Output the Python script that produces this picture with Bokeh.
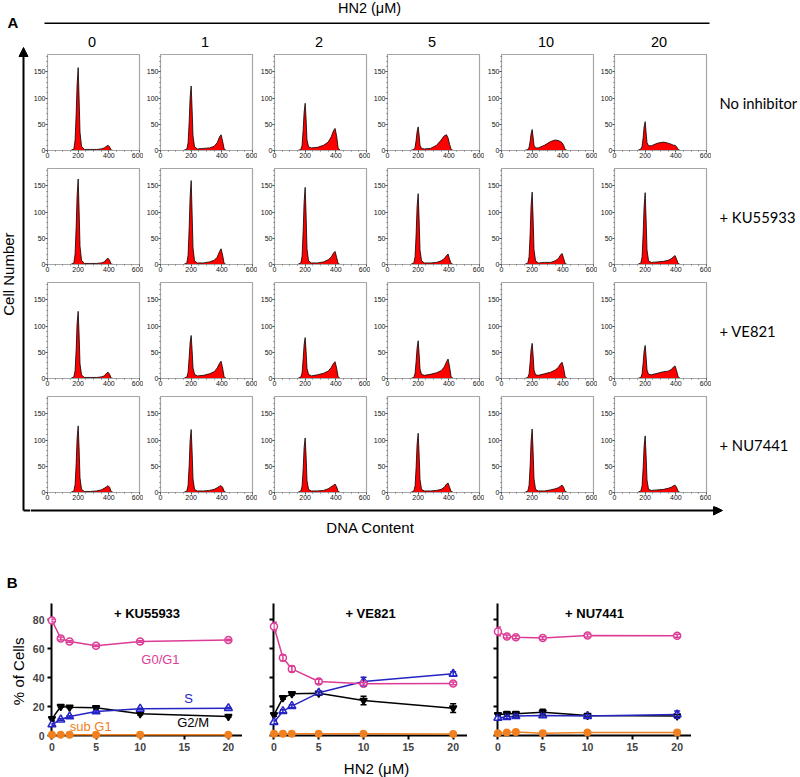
import math
from bokeh.plotting import figure
from bokeh.layouts import row, column
from bokeh.models import Range1d, FixedTicker, Arrow, NormalHead, Whisker, TeeHead, ColumnDataSource
from bokeh.core.properties import value
from bokeh.embed import file_html
from bokeh.resources import INLINE

# ---------------- data ----------------
DOSE_LABELS = ["0", "1", "2", "5", "10", "20"]
ROW_LABELS = ["No inhibitor", "+ KU55933", "+ VE821", "+ NU7441"]

# DNA content positions at which the histogram heights were read
DNA_X = [150, 172, 180, 187, 193, 200, 206, 212, 222, 240, 280, 320, 350, 370, 385, 395, 405, 415, 430]

HIST_NO_INHIBITOR = [
    [0, 3, 20, 70, 125, 158, 100, 35, 8, 2, 2, 2, 3, 5, 8, 10, 7, 1, 0],
    [0, 3, 15, 55, 100, 123, 80, 28, 7, 3, 4, 5, 8, 15, 26, 30, 18, 3, 0],
    [0, 2, 10, 40, 72, 90, 60, 20, 7, 5, 6, 10, 16, 26, 38, 42, 28, 5, 0],
    [0, 2, 6, 20, 36, 45, 30, 10, 4, 3, 4, 10, 20, 28, 30, 24, 12, 2, 0],
    [0, 2, 6, 18, 32, 40, 26, 10, 5, 5, 10, 17, 20, 19, 17, 15, 10, 2, 0],
    [0, 3, 8, 25, 45, 55, 35, 15, 9, 9, 14, 16, 14, 12, 10, 10, 7, 2, 0],
]
HIST_KU55933 = [
    [0, 3, 20, 72, 130, 163, 105, 35, 8, 2, 2, 2, 3, 5, 10, 12, 8, 1, 0],
    [0, 3, 18, 70, 128, 160, 100, 32, 7, 3, 3, 5, 8, 14, 25, 30, 18, 2, 0],
    [0, 3, 16, 65, 118, 147, 95, 30, 7, 3, 3, 5, 9, 14, 22, 25, 14, 2, 0],
    [0, 3, 15, 60, 110, 135, 88, 28, 7, 3, 3, 4, 7, 11, 17, 20, 10, 2, 0],
    [0, 3, 15, 60, 112, 138, 90, 28, 7, 3, 4, 4, 7, 11, 18, 21, 12, 2, 0],
    [0, 3, 15, 60, 110, 137, 88, 28, 7, 4, 5, 6, 8, 11, 15, 17, 10, 2, 0],
]
HIST_VE821 = [
    [0, 3, 15, 55, 105, 128, 85, 28, 7, 2, 2, 2, 3, 5, 10, 12, 8, 1, 0],
    [0, 3, 12, 40, 68, 82, 55, 20, 8, 5, 6, 9, 13, 20, 29, 33, 20, 3, 0],
    [0, 3, 11, 38, 64, 78, 52, 19, 8, 5, 7, 10, 14, 21, 29, 32, 20, 3, 0],
    [0, 2, 10, 34, 58, 72, 48, 18, 8, 6, 8, 11, 15, 22, 32, 37, 22, 3, 0],
    [0, 2, 9, 32, 55, 67, 45, 16, 7, 6, 9, 12, 16, 21, 28, 31, 20, 3, 0],
    [0, 2, 9, 30, 52, 63, 42, 16, 8, 7, 10, 13, 14, 17, 22, 24, 15, 3, 0],
]
HIST_NU7441 = [
    [0, 3, 15, 55, 102, 127, 85, 28, 6, 2, 2, 3, 5, 8, 11, 13, 10, 2, 0],
    [0, 3, 14, 52, 98, 120, 80, 26, 6, 3, 3, 4, 6, 9, 12, 13, 10, 2, 0],
    [0, 3, 12, 45, 85, 104, 70, 23, 6, 3, 3, 4, 7, 11, 14, 16, 11, 2, 0],
    [0, 3, 13, 50, 92, 113, 75, 25, 6, 3, 3, 4, 6, 10, 16, 18, 10, 2, 0],
    [0, 3, 14, 52, 98, 121, 80, 26, 6, 3, 3, 5, 7, 9, 12, 14, 10, 2, 0],
    [0, 3, 13, 48, 88, 108, 72, 24, 6, 4, 5, 6, 8, 10, 13, 14, 10, 2, 0],
]
HIST_ROWS = [HIST_NO_INHIBITOR, HIST_KU55933, HIST_VE821, HIST_NU7441]

HIST_X_TICKS = [0, 200, 400, 600]
HIST_Y_TICKS = [0, 50, 100, 150]

# Panel B: % of cells vs HN2 dose
HN2_B = [0, 1, 2, 5, 10, 20]
KU_G0G1 = [79.5, 67, 65, 62, 65, 66]
KU_S = [7.6, 11, 13.1, 16.6, 18.4, 18.9]
KU_G2M = [11.5, 20, 19.5, 19.1, 15, 13.1]
KU_SUBG1 = [0.5, 0.5, 0.5, 0.6, 0.5, 0.5]
KU_G0G1_ERR = [1, 1, 0.5, 0.5, 0.5, 0.5]
KU_S_ERR = [0.5, 0.5, 0.5, 0.5, 0.5, 0.5]
KU_G2M_ERR = [1.5, 0.5, 0.5, 0.8, 0.8, 0.5]
KU_SUBG1_ERR = [0.2, 0.2, 0.2, 0.2, 0.2, 0.2]

VE_G0G1 = [75.3, 53.7, 46, 37.3, 35.7, 36]
VE_S = [9.2, 16.8, 20.3, 29.5, 37.3, 42.6]
VE_G2M = [14.3, 26, 28.8, 29.2, 24.2, 18.9]
VE_SUBG1 = [1.2, 1.2, 1.2, 1.2, 1.2, 1.0]
VE_G0G1_ERR = [3, 2, 2, 1.5, 1, 1]
VE_S_ERR = [1, 1, 1, 1, 3, 1.5]
VE_G2M_ERR = [1, 1, 1, 1, 3, 3]
VE_SUBG1_ERR = [0.2, 0.2, 0.2, 0.2, 0.2, 0.2]

NU_G0G1 = [71.9, 68.4, 67.9, 67.3, 69.1, 68.9]
NU_S = [12.2, 12.7, 13.4, 13.8, 13.4, 14.5]
NU_G2M = [14.3, 15, 15, 16.1, 13.8, 13.4]
NU_SUBG1 = [1.6, 2.1, 2.5, 1.6, 2.1, 2.1]
NU_G0G1_ERR = [3, 1, 1, 1, 1, 1]
NU_S_ERR = [1, 1, 1, 1, 1, 2.5]
NU_G2M_ERR = [1, 1.5, 1.5, 2, 1, 1]
NU_SUBG1_ERR = [0.3, 0.3, 0.3, 0.3, 0.3, 0.3]

B_TITLES = ["+ KU55933", "+ VE821", "+ NU7441"]
B_X_TICKS = [0, 5, 10, 15, 20]
B_Y_TICKS = [0, 20, 40, 60, 80]

# ---------------- style ----------------
SANS_NAME = "Liberation Sans"
SANS = value(SANS_NAME)
CAL = value("Lato")
PINK = "#DD3C96"
BLUE = "#2424C4"
ORANGE = "#F08020"

# geometry (px)
LEFT_W = 30
HEAD_H = 50
COL_W = [113, 114, 113, 114, 113, 114]
PL, PT, PB = 14, 4, 14
FRAME_W, FRAME_H = 95, 96
PH = PT + FRAME_H + PB
GRID_W = sum(COL_W)
RIGHT_W = 800 - LEFT_W - GRID_W
BOT_H = 39
PART_A_H = HEAD_H + 4 * PH + BOT_H


def deco(w, h):
    f = figure(width=w, height=h, x_range=Range1d(0, w), y_range=Range1d(h, 0),
               output_backend="svg", toolbar_location=None,
               x_axis_location=None, y_axis_location=None, min_border=0)
    f.grid.visible = False
    f.outline_line_color = None
    return f


def hist_panel(heights, width):
    f = figure(width=width, height=PH, x_range=Range1d(0, 600), y_range=Range1d(0, 183),
               output_backend="svg", toolbar_location=None,
               min_border_left=PL, min_border_right=width - PL - FRAME_W,
               min_border_top=PT, min_border_bottom=PB)
    f.grid.visible = False
    f.outline_line_color = "#a6a6a6"
    f.outline_line_width = 1.2
    f.varea(x=DNA_X, y1=[0] * len(DNA_X), y2=heights, fill_color="#ff0000")
    f.line(DNA_X, heights, line_color="black", line_width=0.8)
    f.xaxis.ticker = FixedTicker(ticks=HIST_X_TICKS, minor_ticks=list(range(0, 601, 50)))
    f.yaxis.ticker = FixedTicker(ticks=HIST_Y_TICKS, minor_ticks=list(range(0, 181, 10)))
    for ax in f.axis:
        ax.axis_line_color = "#a6a6a6"
        ax.major_tick_line_color = "#444444"
        ax.minor_tick_line_color = "#666666"
        ax.major_tick_in = 0
        ax.major_tick_out = 2
        ax.minor_tick_in = 0
        ax.minor_tick_out = 1
        ax.major_label_text_font = SANS_NAME
        ax.major_label_text_font_size = "7px"
        ax.major_label_text_color = "#111111"
        ax.major_label_standoff = 0
    return f


# ---------------- part A ----------------
left = deco(LEFT_W, PART_A_H)
left.text(x=[12.5], y=[21.7], text=["A"], text_font=SANS, text_font_style="bold",
          text_font_size="15px", text_align="center", text_baseline="middle")
left.text(x=[7.5], y=[273.6], text=["Cell Number"], text_font=SANS, text_font_size="15px",
          text_align="center", text_baseline="middle", angle=math.pi / 2)
ARROW_Y = 510
left.add_layout(Arrow(end=NormalHead(size=9, fill_color="black", line_color="black"),
                      x_start=23, y_start=ARROW_Y, x_end=23, y_end=47, line_width=2))
left.segment(x0=[23], y0=[ARROW_Y], x1=[LEFT_W], y1=[ARROW_Y], line_width=2, line_color="black")

head = deco(800 - LEFT_W, HEAD_H)
col_left = [sum(COL_W[:i]) + PL for i in range(6)]
frame_centers = [c + FRAME_W / 2 for c in col_left]
head.text(x=[369 - LEFT_W], y=[7], text=["HN2 (\u03bcM)"], text_font=SANS, text_font_size="14.5px",
          text_align="center", text_baseline="middle")
head.segment(x0=[col_left[0]], y0=[22.7], x1=[col_left[5] + FRAME_W + 3], y1=[22.7],
             line_width=1.6, line_color="black")
head.text(x=frame_centers, y=[41.7] * 6, text=DOSE_LABELS, text_font=SANS, text_font_size="14.5px",
          text_align="center", text_baseline="middle")

grid_rows = []
for r in range(4):
    grid_rows.append(row(*[hist_panel(HIST_ROWS[r][c], COL_W[c]) for c in range(6)]))
grid = column(*grid_rows)

rlab = deco(RIGHT_W, 4 * PH)
rlab.text(x=[8] * 4, y=[PT + FRAME_H / 2 + r * PH for r in range(4)], text=ROW_LABELS,
          text_font=CAL, text_font_size="14.8px", text_align="left", text_baseline="middle")

bot = deco(800 - LEFT_W, BOT_H)
bot.add_layout(Arrow(end=NormalHead(size=9, fill_color="black", line_color="black"),
                     x_start=0, y_start=ARROW_Y - HEAD_H - 4 * PH,
                     x_end=722 - LEFT_W, y_end=ARROW_Y - HEAD_H - 4 * PH, line_width=2))
bot.text(x=[370 - LEFT_W], y=[21], text=["DNA Content"], text_font=SANS, text_font_size="15px",
         text_align="center", text_baseline="middle")

part_a = row(left, column(head, row(grid, rlab), bot))

# ---------------- part B ----------------
B_LEFT_W = 29
B_TOP, B_FRAME_W, B_FRAME_H, B_BOT = 603 - PART_A_H, 194, 132, 20
B_H = B_TOP + B_FRAME_H + B_BOT

# left strip: frame aligned with the panels, coordinates in local pixels
leftB = figure(width=B_LEFT_W, height=B_H, x_range=Range1d(0, B_LEFT_W),
               y_range=Range1d(B_TOP + B_FRAME_H, B_TOP), output_backend="svg",
               toolbar_location=None, x_axis_location=None, y_axis_location=None,
               min_border_left=0, min_border_right=0, min_border_top=B_TOP, min_border_bottom=B_BOT)
leftB.grid.visible = False
leftB.outline_line_color = None
tb = leftB.text(x=[11.7], y=[581.7 - PART_A_H], text=["B"], text_font=SANS, text_font_style="bold",
                text_font_size="15px", text_align="center", text_baseline="middle")
tb.level = "overlay"
tc = leftB.text(x=[18.3], y=[666.7 - PART_A_H], text=["%  of  Cells"], text_font=SANS,
                text_font_size="15px", text_align="center", text_baseline="middle", angle=math.pi / 2)
tc.level = "overlay"


def b_panel(title, series, left_border, show_labels):
    f = figure(width=left_border + B_FRAME_W, height=B_H, x_range=Range1d(-0.05, 21.6),
               y_range=Range1d(0, 91.2), output_backend="svg", toolbar_location=None,
               min_border_left=left_border, min_border_right=0, min_border_top=B_TOP,
               min_border_bottom=B_BOT)
    f.grid.visible = False
    f.outline_line_color = None
    f.xaxis.ticker = FixedTicker(ticks=B_X_TICKS)
    f.yaxis.ticker = FixedTicker(ticks=B_Y_TICKS)
    for ax in f.axis:
        ax.axis_line_width = 2
        ax.major_tick_line_width = 2
        ax.major_tick_in = 0
        ax.major_tick_out = 4
        ax.minor_tick_line_color = None
        ax.major_label_text_font = SANS_NAME
        ax.major_label_text_font_style = "bold"
        ax.major_label_text_font_size = "10.5px"
        ax.major_label_standoff = 3
    if not show_labels:
        f.yaxis.major_label_overrides = {t: "" for t in B_Y_TICKS}
        f.yaxis.major_label_standoff = 0
    for vals, errs, color, marker, fill, size in series:
        r = f.line(HN2_B, vals, line_color=color, line_width=1.5)
        r.level = "overlay"
        src = ColumnDataSource(dict(x=HN2_B, lo=[v - e for v, e in zip(vals, errs)],
                                    hi=[v + e for v, e in zip(vals, errs)]))
        w = Whisker(base="x", lower="lo", upper="hi", source=src, dimension="height",
                    line_color=color, line_width=1.5,
                    upper_head=TeeHead(size=6, line_color=color, line_width=1.5),
                    lower_head=TeeHead(size=6, line_color=color, line_width=1.5))
        w.level = "overlay"
        f.add_layout(w)
        s = f.scatter(HN2_B, vals, marker=marker, size=size, line_color=color, fill_color=fill,
                      line_width=1.5)
        s.level = "overlay"
    xr = f.x_range
    f.text(x=[(xr.start + xr.end) / 2], y=[84.3], text=[title], text_font=SANS, text_font_style="bold",
           text_font_size="13px", text_align="center", text_baseline="middle")
    return f


def series(g1, g1e, s, se, g2, g2e, sub, sube):
    return [
        (sub, sube, ORANGE, "circle", ORANGE, 6.5),
        (g2, g2e, "black", "inverted_triangle", "black", 7),
        (s, se, BLUE, "triangle", "white", 8),
        (g1, g1e, PINK, "circle", "white", 7),
    ]


b1 = b_panel(B_TITLES[0], series(KU_G0G1, KU_G0G1_ERR, KU_S, KU_S_ERR, KU_G2M, KU_G2M_ERR,
                                 KU_SUBG1, KU_SUBG1_ERR), 48 - B_LEFT_W, True)
b1.text(x=[12.3, 15.5, 16.0, 4.4], y=[52.5, 25.6, 9.0, 6.2], text=["G0/G1", "S", "G2/M", "sub G1"],
        text_color=[PINK, BLUE, "black", ORANGE], text_font=SANS, text_font_size="13px",
        text_align="center", text_baseline="middle")
b2 = b_panel(B_TITLES[1], series(VE_G0G1, VE_G0G1_ERR, VE_S, VE_S_ERR, VE_G2M, VE_G2M_ERR,
                                 VE_SUBG1, VE_SUBG1_ERR), 273 - 48 - B_FRAME_W, False)
b3 = b_panel(B_TITLES[2], series(NU_G0G1, NU_G0G1_ERR, NU_S, NU_S_ERR, NU_G2M, NU_G2M_ERR,
                                 NU_SUBG1, NU_SUBG1_ERR), 497 - 273 - B_FRAME_W, False)

BOTB_H = 777 - PART_A_H - B_H
botB = deco(800, BOTB_H)
botB.text(x=[376], y=[768 - PART_A_H - B_H], text=["HN2 (\u03bcM)"], text_font=SANS,
          text_font_size="15px", text_align="center", text_baseline="middle")

layout = column(part_a, row(leftB, b1, b2, b3), botB)

open("out.html", "w").write(file_html(layout, INLINE))
